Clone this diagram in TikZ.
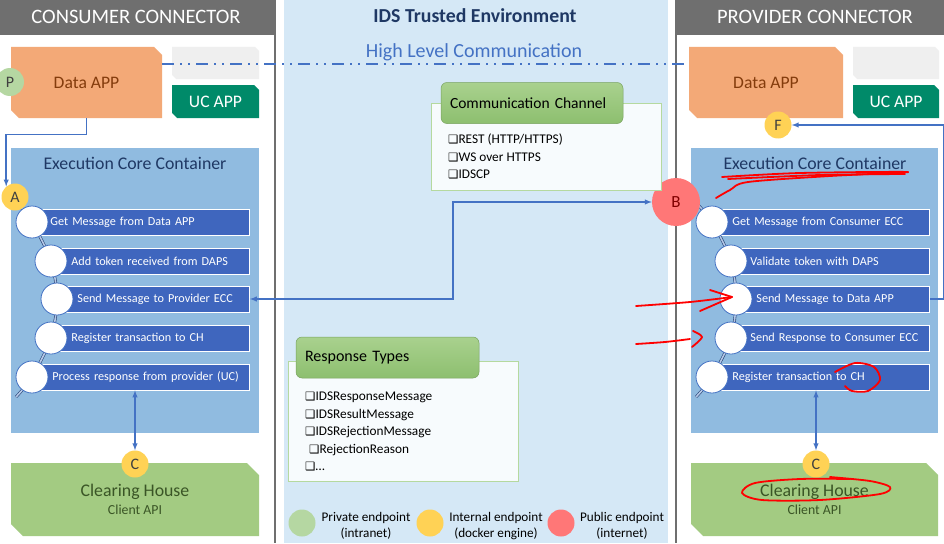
\documentclass[tikz,border=0pt]{standalone}
\usepackage{fontspec}
\setmainfont{Carlito}
\newfontfamily\symfont{DejaVu Sans}
\usetikzlibrary{positioning,calc}
\tikzset{>=latex}

\definecolor{hdrgray}{HTML}{6F6F6F}
\definecolor{envblue}{HTML}{D5E8F6}
\definecolor{eccblue}{HTML}{90BBE0}
\definecolor{stepblue}{HTML}{3F66BE}
\definecolor{linkblue}{HTML}{4472C4}
\definecolor{navy}{HTML}{1F3864}
\definecolor{appor}{HTML}{F3A977}
\definecolor{appbrown}{HTML}{843C0C}
\definecolor{ucgreen}{HTML}{008A69}
\definecolor{sparegray}{HTML}{EFEFEF}
\definecolor{chgreen}{HTML}{A3CB82}
\definecolor{chtext}{HTML}{3A5526}
\definecolor{ptgreen}{HTML}{B5D7A2}
\definecolor{ptyellow}{HTML}{FFD255}
\definecolor{ptred}{HTML}{FF7777}
\definecolor{headA}{HTML}{A9D18E}
\definecolor{headB}{HTML}{8DBF6F}
\definecolor{bodygreen}{HTML}{B5D99F}
\definecolor{bodywhite}{HTML}{F7FBFD}

\newcommand{\fsz}[1]{\fontsize{#1}{#1}\selectfont}
\newcommand{\tickbox}{{\symfont\fsz{11.5}\char"2751}}

\tikzset{
  hdr/.style={text=white, font=\fsz{20.5}},
  chamf/.style 2 args={fill=white, path picture={
      \fill[#1] (path picture bounding box.north west)
        -- ([xshift=-#2]path picture bounding box.north east)
        -- ([yshift=-#2]path picture bounding box.north east)
        -- (path picture bounding box.south east)
        -- ([xshift=#2]path picture bounding box.south west)
        -- ([yshift=#2]path picture bounding box.south west) -- cycle;}},
  ecctitle/.style={text=navy, font=\fsz{17.8}},
  stepbox/.style={rectangle, fill=stepblue, draw=white, line width=0.8pt,
    minimum height=26pt, inner xsep=0pt, inner ysep=0pt, text width=#1,
    align=left, text=white, font=\fsz{12.2}, anchor=west},
  stepdot/.style={circle, fill=white, draw=linkblue, line width=0.8pt,
    minimum size=32pt, inner sep=0pt},
  endpt/.style={circle, minimum size=27pt, inner sep=0pt, font=\fsz{16}, text=black!75},
  chain/.style={draw=linkblue!60!black, double=linkblue!40, double distance=1.6pt, line width=0.6pt},
  flow/.style={draw=linkblue, line width=1.4pt},
  hlcline/.style={draw=linkblue, line width=2pt,
    dash pattern=on 12pt off 6pt on 2pt off 6pt on 2pt off 6pt},
  grouphead/.style={rounded corners=6pt, top color=headA, bottom color=headB,
    draw=headB!85!black, line width=0.5pt, minimum height=41pt, inner xsep=9pt,
    text width=#1, align=left},
  groupbody/.style={fill=bodywhite, draw=bodygreen, line width=1pt},
  items/.style={anchor=north west, align=left, font={\fontsize{13.3}{17.5}\selectfont}, inner sep=0pt},
  legend/.style={align=center, font={\fontsize{13.2}{16}\selectfont}},
  scribble/.style={draw=red, line width=1.8pt, line cap=round, line join=round},
}

\begin{document}
\begin{tikzpicture}[x=1pt,y=-1pt]
  \useasboundingbox (0,0) rectangle (944,543);
  \fill[white] (0,0) rectangle (944,543);
  % panels
  \fill[envblue] (284,0) rectangle (668,543);
  \fill[hdrgray] (0,0) rectangle (275,35);
  \fill[hdrgray] (676,0) rectangle (944,35);
  \draw[hdrgray, line width=2pt] (275,0) -- (275,543);
  \draw[hdrgray, line width=2pt] (676,0) -- (676,543);
  \node[hdr] (consumer) at (136,17) {CONSUMER CONNECTOR};
  \node[hdr] (provider) at (815,17) {PROVIDER CONNECTOR};
  \node[font=\bfseries\fsz{19.8}, text=navy] (ids) at (475,16) {IDS Trusted Environment};
  \node[font=\fsz{20}, text=linkblue] (hlc) at (474,52) {High Level Communication};

  % consumer side
  \node[chamf={appor}{8pt}, minimum width=151pt, minimum height=71pt, text=appbrown, font=\fsz{17.6}] (dappL) at (86.5,82.5) {Data APP};
  \node[chamf={sparegray}{4pt}, minimum width=87pt, minimum height=32pt] (spareL) at (215.5,63) {};
  \node[chamf={ucgreen}{5pt}, minimum width=87pt, minimum height=33pt, text=white, font=\fsz{17.6}] (ucL) at (215.5,101.5) {UC APP};
  \node[endpt, fill=ptgreen, minimum size=28pt] (ptP) at (10,82) {P};
  \fill[eccblue] (11,148) rectangle (259,433);
  \node[ecctitle] (eccL) at (135,163) {Execution Core Container};
  \draw[chain] plot[smooth] coordinates {(18,204) (32,222) (51,261) (57,299) (51,338) (32,377) (16,397)};
  \node[stepbox=217pt] (sL1) at (32,222) {\hspace*{18pt}Get Message from Data APP};
  \node[stepbox=198pt] (sL2) at (51,261) {\hspace*{20pt}Add token received from DAPS};
  \node[stepbox=192pt] (sL3) at (57,299) {\hspace*{20pt}Send Message to Provider ECC};
  \node[stepbox=198pt] (sL4) at (51,338) {\hspace*{20pt}Register transaction to CH};
  \node[stepbox=217pt] (sL5) at (32,377) {\hspace*{20pt}Process response from provider (UC)};
  \node[stepdot] (dL1) at (sL1.west) {};
  \node[stepdot] (dL2) at (sL2.west) {};
  \node[stepdot] (dL3) at (sL3.west) {};
  \node[stepdot] (dL4) at (sL4.west) {};
  \node[stepdot] (dL5) at (sL5.west) {};
  \node[endpt, fill=ptyellow] (ptA) at (15,197) {A};
  \node[chamf={chgreen}{12pt}, minimum width=248pt, minimum height=73pt, text=chtext, align=center] (chL) at (135,499.5) {\fsz{17.8}Clearing House\\[4pt]\fsz{13.8}Client API};
  \node[endpt, fill=ptyellow] (ptCL) at (135,464) {C};

  % provider side
  \node[chamf={appor}{8pt}, minimum width=154pt, minimum height=71pt, text=appbrown, font=\fsz{17.6}] (dappR) at (766,82.5) {Data APP};
  \node[chamf={sparegray}{4pt}, minimum width=86pt, minimum height=32pt] (spareR) at (896,63) {};
  \node[chamf={ucgreen}{5pt}, minimum width=86pt, minimum height=33pt, text=white, font=\fsz{17.6}] (ucR) at (896,101.5) {UC APP};
  \fill[eccblue] (691,148) rectangle (938,433);
  \node[ecctitle] (eccR) at (815,163) {Execution Core Container};
  \draw[chain] plot[smooth] coordinates {(690,196) (712,222) (731,261) (736,299) (731,338) (712,377) (696,397)};
  \node[stepbox=217pt] (sR1) at (712,222) {\hspace*{20pt}Get Message from Consumer ECC};
  \node[stepbox=198pt] (sR2) at (731,261) {\hspace*{19pt}Validate token with DAPS};
  \node[stepbox=193pt] (sR3) at (736,299) {\hspace*{20pt}Send Message to Data APP};
  \node[stepbox=198pt] (sR4) at (731,338) {\hspace*{19pt}Send Response to Consumer ECC};
  \node[stepbox=217pt] (sR5) at (712,377) {\hspace*{20pt}Register transaction to CH};
  \node[stepdot] (dR1) at (sR1.west) {};
  \node[stepdot] (dR2) at (sR2.west) {};
  \node[stepdot] (dR3) at (sR3.west) {};
  \node[stepdot] (dR4) at (sR4.west) {};
  \node[stepdot] (dR5) at (sR5.west) {};
  \node[endpt, fill=ptred, minimum size=48pt, font=\fsz{17}, text=red!50!black] (ptB) at (676,202) {B};
  \node[endpt, fill=ptyellow] (ptF) at (778,125) {F};
  \node[chamf={chgreen}{12pt}, minimum width=247pt, minimum height=73pt, text=chtext, align=center] (chR) at (814.5,499.5) {\fsz{17.8}Clearing House\\[4pt]\fsz{13.8}Client API};
  \node[endpt, fill=ptyellow] (ptCR) at (816,464) {C};

  % trusted environment
  \node[groupbody, minimum width=230pt, minimum height=87pt] (ccbody) at (546,146.5) {};
  \node[grouphead=164pt, font=\fsz{15.5}] (cchead) at (532,103) {Communication Channel};
  \node[items] (ccitems) at (448,134) {\tickbox REST (HTTP/HTTPS)\\\tickbox WS over HTTPS\\\tickbox IDSCP};
  \node[groupbody, minimum width=230pt, minimum height=120pt] (rtbody) at (403,421) {};
  \node[grouphead=165pt, font=\fsz{16}] (rthead) at (387.5,357.5) {Response Types};
  \node[items] (rtitems) at (305,392) {\tickbox IDSResponseMessage\\\tickbox IDSResultMessage\\\tickbox IDSRejectionMessage\\\hspace*{4pt}\tickbox RejectionReason\\\tickbox …};
  \node[endpt, fill=ptgreen] (lgP) at (302,523) {};
  \node[legend] (lgPt) at (366,526) {Private endpoint\\(intranet)};
  \node[endpt, fill=ptyellow] (lgI) at (430,523) {};
  \node[legend] (lgIt) at (496,526) {Internal endpoint\\(docker engine)};
  \node[endpt, fill=ptred] (lgU) at (561,523) {};
  \node[legend] (lgUt) at (622,526) {Public endpoint\\(internet)};

  % connectors
  \draw[hlcline] ($(dappL.north east)+(0,17)$) -- ($(dappR.north west)+(0,17)$);
  \draw[flow,->] (dappL.south) -- ++(0,16) -| (ptA.130);
  \draw[flow,<->] (sL3.east) -- ++(203,0) |- (ptB.west);
  \draw[flow,->] (sR3.east) -- ++(14,0) |- (ptF.east);
  \draw[flow,<->] (ptCL.north |- sL5.south) -- (ptCL.north);
  \draw[flow,<->] (ptCR.north |- sR5.south) -- (ptCR.north);

  % red marks
  \draw[scribble] plot[smooth] coordinates {(722,177) (800,173) (908,172) (830,176) (748,182) (730,190) (716,198)};
  \draw[scribble] plot[smooth] coordinates {(728,179) (820,175) (905,174)};
  \draw[scribble] plot[smooth] coordinates {(636,306) (690,302) (732,297)};
  \draw[scribble] (710,290) -- (732,297) -- (700,311);
  \draw[scribble] plot[smooth] coordinates {(636,344) (665,342) (690,339)};
  \draw[scribble] plot[smooth] coordinates {(693,331) (702,337) (692,347)};
  \draw[scribble] plot[smooth] coordinates {(835,372) (855,363) (874,367) (880,380) (868,391) (852,391) (845,386)};
  \draw[scribble] plot[smooth] coordinates {(850,479) (800,479) (755,483) (742,493) (762,500) (820,500) (880,494) (890,487) (870,481) (830,477)};
\end{tikzpicture}
\end{document}
